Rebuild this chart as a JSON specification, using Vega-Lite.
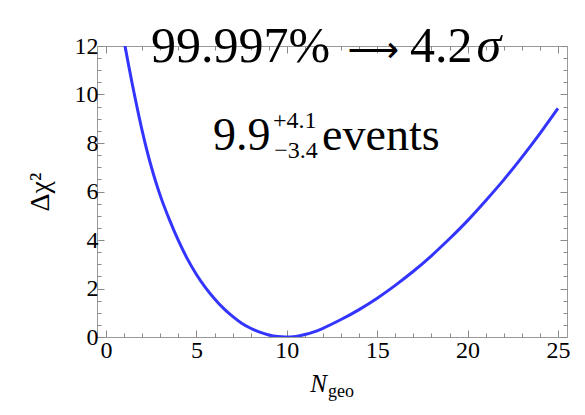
{
  "$schema": "https://vega.github.io/schema/vega-lite/v6.json",
  "width": 470,
  "height": 291,
  "autosize": "none",
  "padding": {"left": 97, "top": 46, "right": 18, "bottom": 78},
  "background": "white",
  "config": {
    "view": {"stroke": "#9a9a9a", "strokeWidth": 1},
    "font": "Liberation Serif",
    "text": {"font": "Liberation Serif", "color": "black"},
    "axis": {
      "domain": false,
      "grid": false,
      "labelFont": "Liberation Serif",
      "titleFont": "Liberation Serif",
      "labelFontSize": 24,
      "labelColor": "black",
      "labelOverlap": false,
      "labelFlush": false,
      "labelBound": false,
      "tickColor": "#8a8a8a",
      "tickWidth": 1
    }
  },
  "layer": [
    {
      "data": {
        "values": [
          {"N_geo": 1.0, "dchi2": 12.2},
          {"N_geo": 1.25, "dchi2": 11.2},
          {"N_geo": 1.5, "dchi2": 10.25},
          {"N_geo": 1.75, "dchi2": 9.35},
          {"N_geo": 2.0, "dchi2": 8.5},
          {"N_geo": 2.25, "dchi2": 7.73},
          {"N_geo": 2.5, "dchi2": 7.03},
          {"N_geo": 2.75, "dchi2": 6.4},
          {"N_geo": 3.0, "dchi2": 5.83},
          {"N_geo": 3.5, "dchi2": 4.85},
          {"N_geo": 4.0, "dchi2": 3.98},
          {"N_geo": 4.5, "dchi2": 3.22},
          {"N_geo": 5.0, "dchi2": 2.58},
          {"N_geo": 5.5, "dchi2": 2.04},
          {"N_geo": 6.0, "dchi2": 1.58},
          {"N_geo": 6.5, "dchi2": 1.18},
          {"N_geo": 7.0, "dchi2": 0.85},
          {"N_geo": 7.5, "dchi2": 0.57},
          {"N_geo": 8.0, "dchi2": 0.36},
          {"N_geo": 8.5, "dchi2": 0.2},
          {"N_geo": 9.0, "dchi2": 0.085},
          {"N_geo": 9.5, "dchi2": 0.02},
          {"N_geo": 9.9, "dchi2": 0.0},
          {"N_geo": 10.5, "dchi2": 0.025},
          {"N_geo": 11.0, "dchi2": 0.1},
          {"N_geo": 11.5, "dchi2": 0.21},
          {"N_geo": 12.0, "dchi2": 0.36},
          {"N_geo": 13.0, "dchi2": 0.72},
          {"N_geo": 14.0, "dchi2": 1.13},
          {"N_geo": 15.0, "dchi2": 1.6},
          {"N_geo": 16.0, "dchi2": 2.13},
          {"N_geo": 17.0, "dchi2": 2.71},
          {"N_geo": 18.0, "dchi2": 3.35},
          {"N_geo": 19.0, "dchi2": 4.05},
          {"N_geo": 20.0, "dchi2": 4.8},
          {"N_geo": 21.0, "dchi2": 5.62},
          {"N_geo": 22.0, "dchi2": 6.48},
          {"N_geo": 23.0, "dchi2": 7.41},
          {"N_geo": 24.0, "dchi2": 8.39},
          {"N_geo": 25.0, "dchi2": 9.43}
        ]
      },
      "mark": {"type": "line", "color": "#3434ff", "strokeWidth": 3, "interpolate": "monotone", "clip": true},
      "encoding": {
        "x": {
          "field": "N_geo",
          "type": "quantitative",
          "scale": {"domain": [-0.5, 25.5], "nice": false, "zero": false},
          "axis": {
            "orient": "bottom",
            "title": null,
            "values": [0, 1, 2, 3, 4, 5, 6, 7, 8, 9, 10, 11, 12, 13, 14, 15, 16, 17, 18, 19, 20, 21, 22, 23, 24, 25],
            "labelExpr": "datum.value % 5 === 0 ? '' + datum.value : ''",
            "tickSize": {"condition": {"test": "datum.value % 5 === 0", "value": -7}, "value": -4},
            "labelPadding": 8
          }
        },
        "y": {
          "field": "dchi2",
          "type": "quantitative",
          "scale": {"domain": [0, 12], "nice": false},
          "axis": {
            "orient": "left",
            "title": "Δχ²",
            "titleFont": "Liberation Serif",
            "titleFontSize": 28,
            "titleFontWeight": "normal",
            "titleColor": "black",
            "titlePadding": 20,
            "values": [0, 0.5, 1, 1.5, 2, 2.5, 3, 3.5, 4, 4.5, 5, 5.5, 6, 6.5, 7, 7.5, 8, 8.5, 9, 9.5, 10, 10.5, 11, 11.5, 12],
            "labelExpr": "datum.value % 2 === 0 ? '' + datum.value : ''",
            "tickSize": {"condition": {"test": "datum.value % 2 === 0", "value": -7}, "value": -4},
            "labelPadding": 6
          }
        }
      }
    },
    {
      "data": {"values": [{}]},
      "mark": {"type": "text", "font": "Liberation Serif", "fontSize": 50, "align": "left", "baseline": "alphabetic", "color": "black", "text": "99.997%"},
      "encoding": {
        "x": {
          "datum": 2.49,
          "type": "quantitative",
          "axis": {
            "orient": "top",
            "title": null,
            "labels": false,
            "values": [0, 1, 2, 3, 4, 5, 6, 7, 8, 9, 10, 11, 12, 13, 14, 15, 16, 17, 18, 19, 20, 21, 22, 23, 24, 25],
            "tickSize": {"condition": {"test": "datum.value % 5 === 0", "value": -7}, "value": -4}
          }
        },
        "y": {
          "datum": 11.34,
          "type": "quantitative",
          "axis": {
            "orient": "right",
            "title": null,
            "labels": false,
            "values": [0, 0.5, 1, 1.5, 2, 2.5, 3, 3.5, 4, 4.5, 5, 5.5, 6, 6.5, 7, 7.5, 8, 8.5, 9, 9.5, 10, 10.5, 11, 11.5, 12],
            "tickSize": {"condition": {"test": "datum.value % 2 === 0", "value": -7}, "value": -4}
          }
        }
      }
    },
    {
      "data": {"values": [{}]},
      "mark": {"type": "text", "font": "DejaVu Sans", "fontSize": 36, "align": "center", "baseline": "alphabetic", "color": "black", "text": "⟶"},
      "encoding": {
        "x": {"datum": 14.79, "type": "quantitative", "axis": null},
        "y": {"datum": 11.34, "type": "quantitative", "axis": null}
      }
    },
    {
      "data": {"values": [{}]},
      "mark": {"type": "text", "font": "Liberation Serif", "fontSize": 50, "align": "left", "baseline": "alphabetic", "color": "black", "text": "4.2"},
      "encoding": {
        "x": {"datum": 16.81, "type": "quantitative", "axis": null},
        "y": {"datum": 11.34, "type": "quantitative", "axis": null}
      }
    },
    {
      "data": {"values": [{}]},
      "mark": {"type": "text", "font": "Liberation Serif", "fontSize": 50, "fontStyle": "italic", "align": "left", "baseline": "alphabetic", "color": "black", "text": "σ"},
      "encoding": {
        "x": {"datum": 20.5, "type": "quantitative", "axis": null},
        "y": {"datum": 11.34, "type": "quantitative", "axis": null}
      }
    },
    {
      "data": {"values": [{}]},
      "mark": {"type": "text", "font": "Liberation Serif", "fontSize": 46, "align": "left", "baseline": "alphabetic", "color": "black", "text": "9.9"},
      "encoding": {
        "x": {"datum": 5.92, "type": "quantitative", "axis": null},
        "y": {"datum": 7.71, "type": "quantitative", "axis": null}
      }
    },
    {
      "data": {"values": [{}]},
      "mark": {"type": "text", "font": "Liberation Serif", "fontSize": 24, "align": "left", "baseline": "alphabetic", "color": "black", "text": "+4.1"},
      "encoding": {
        "x": {"datum": 9.24, "type": "quantitative", "axis": null},
        "y": {"datum": 8.62, "type": "quantitative", "axis": null}
      }
    },
    {
      "data": {"values": [{}]},
      "mark": {"type": "text", "font": "Liberation Serif", "fontSize": 24, "align": "left", "baseline": "alphabetic", "color": "black", "text": "−3.4"},
      "encoding": {
        "x": {"datum": 9.3, "type": "quantitative", "axis": null},
        "y": {"datum": 7.38, "type": "quantitative", "axis": null}
      }
    },
    {
      "data": {"values": [{}]},
      "mark": {"type": "text", "font": "Liberation Serif", "fontSize": 46, "align": "left", "baseline": "alphabetic", "color": "black", "text": "events"},
      "encoding": {
        "x": {"datum": 11.95, "type": "quantitative", "axis": null},
        "y": {"datum": 7.71, "type": "quantitative", "axis": null}
      }
    },
    {
      "data": {"values": [{}]},
      "mark": {"type": "text", "font": "Liberation Serif", "fontSize": 25, "fontStyle": "italic", "align": "right", "baseline": "alphabetic", "color": "black", "text": "N"},
      "encoding": {
        "x": {"datum": 12.22, "type": "quantitative", "axis": null},
        "y": {"datum": -2.27, "type": "quantitative", "axis": null}
      }
    },
    {
      "data": {"values": [{}]},
      "mark": {"type": "text", "font": "Liberation Serif", "fontSize": 18, "align": "left", "baseline": "alphabetic", "color": "black", "text": "geo"},
      "encoding": {
        "x": {"datum": 12.28, "type": "quantitative", "axis": null},
        "y": {"datum": -2.47, "type": "quantitative", "axis": null}
      }
    }
  ],
  "resolve": {"axis": {"x": "independent", "y": "independent"}}
}
